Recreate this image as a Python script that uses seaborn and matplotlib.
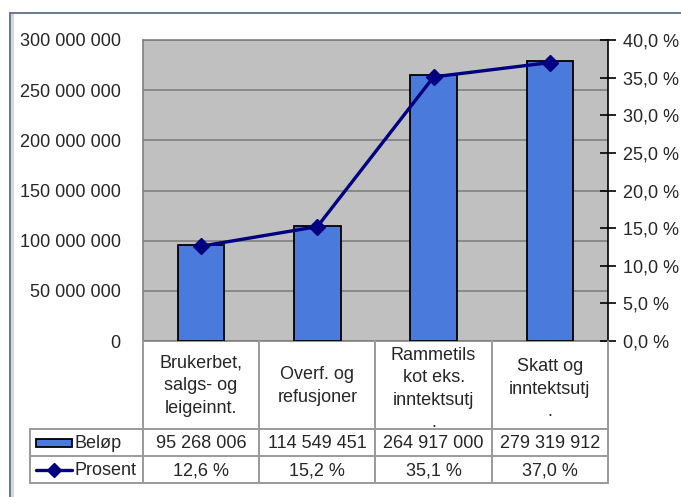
import matplotlib
matplotlib.use("Agg")
import matplotlib.pyplot as plt
import seaborn as sns
import pandas as pd
import numpy as np
from matplotlib.lines import Line2D
from matplotlib.patches import Rectangle

# ---- data ----
categories = ["Brukerbet,\nsalgs- og\nleigeinnt.", "Overf. og\nrefusjoner",
              "Rammetils\nkot eks.\ninntektsutj\n.", "Skatt og\ninntektsutj\n."]
belop = [95268006, 114549451, 264917000, 279319912]
prosent = [12.6, 15.2, 35.1, 37.0]
left_ticks = [0, 50000000, 100000000, 150000000, 200000000, 250000000, 300000000]
right_ticks = [0, 5, 10, 15, 20, 25, 30, 35, 40]
series_names = ["Beløp", "Prosent"]

BAR = "#4A7BDC"
LINE = "#000080"
GRIDC = "#808080"
TBL = "#9a9a9a"

W, H = 681, 497
sns.set_theme(style="white")
plt.rcParams['font.family'] = ['Liberation Sans', 'DejaVu Sans']
FS = 13

fig = plt.figure(figsize=(W / 100, H / 100), dpi=100)
fig.patch.set_facecolor("white")

def fx(x):
    return x / W

def fy(y):
    return 1 - y / H

PL, PR, PT, PB = 143, 608, 40, 341
ax = fig.add_axes([fx(PL), fy(PB), (PR - PL) / W, (PB - PT) / H])
ax.set_facecolor("#C0C0C0")

df = pd.DataFrame({"cat": categories, "val": belop})
sns.barplot(data=df, x="cat", y="val", ax=ax, color=BAR, width=0.4,
            edgecolor="black", linewidth=1.3, saturation=1, zorder=3)
ax.set_xlim(-0.5, 3.5)
ax.set_ylim(0, 300000000)
ax.set_yticks(left_ticks)
ax.set_yticklabels(["{:,}".format(v).replace(",", " ") for v in left_ticks], fontsize=FS)
ax.tick_params(axis="y", length=0, pad=16)
ax.set_xticks([])
ax.set_xlabel("")
ax.set_ylabel("")
ax.yaxis.grid(True, color=GRIDC, linewidth=1.2, zorder=0)
ax.set_axisbelow(True)
for s in ["left", "top"]:
    ax.spines[s].set_color("#808080")
    ax.spines[s].set_linewidth(1.2)
ax.spines["right"].set_visible(False)
ax.spines["bottom"].set_color("#808080")
ax.spines["bottom"].set_linewidth(1.2)

ax2 = ax.twinx()
ax2.plot(range(len(prosent)), prosent, color=LINE, linewidth=2.4,
         marker="D", markersize=8, zorder=5)
ax2.set_ylim(0, 40)
ax2.set_yticks(right_ticks)
ax2.set_yticklabels([f"{v:.1f} %".replace(".", ",") for v in right_ticks], fontsize=FS)
ax2.tick_params(axis="y", direction="inout", length=11, width=1.2, color="black", pad=5)
for s in ["left", "top", "bottom"]:
    ax2.spines[s].set_visible(False)
ax2.spines["right"].set_color("black")
ax2.spines["right"].set_linewidth(1.2)
ax2.grid(False)

# ---- frame ----
fig.add_artist(Line2D([fx(11.5), fx(11.5)], [fy(14), fy(H + 5)], color="#d4d8de", lw=3, transform=fig.transFigure))
fig.add_artist(Line2D([fx(10), fx(W + 5)], [fy(13), fy(13)], color="#5f7088", lw=1.3, transform=fig.transFigure))
fig.add_artist(Line2D([fx(9.5), fx(9.5)], [fy(13), fy(H + 5)], color="#5f7088", lw=1.3, transform=fig.transFigure))

# ---- data table ----
n = len(categories)
cw = (PR - PL) / n
cols = [PL + i * cw for i in range(n + 1)]
TL = 30
R1, R2, R3 = 429, 456, 483

def hline(y, x0, x1):
    fig.add_artist(Line2D([fx(x0), fx(x1)], [fy(y), fy(y)], color=TBL, lw=1.4, transform=fig.transFigure))

def vline(x, y0, y1):
    fig.add_artist(Line2D([fx(x), fx(x)], [fy(y0), fy(y1)], color=TBL, lw=1.4, transform=fig.transFigure))

for x in cols:
    vline(x, PB, R3)
vline(TL, R1, R3)
hline(R1, TL, PR)
hline(R2, TL, PR)
hline(R3, TL, PR)

for i, c in enumerate(categories):
    xc = (cols[i] + cols[i + 1]) / 2
    off = 4 if c.endswith("\n.") else 1
    ls = 1.4 if c.count("\n") >= 3 else 1.45
    fig.text(fx(xc), fy((PB + R1) / 2 + off), c, ha="center", va="center",
             fontsize=FS, linespacing=ls)
    fig.text(fx(xc), fy((R1 + R2) / 2 + 1), "{:,}".format(belop[i]).replace(",", " "),
             ha="center", va="center", fontsize=FS)
    fig.text(fx(xc), fy((R2 + R3) / 2 + 1), f"{prosent[i]:.1f} %".replace(".", ","),
             ha="center", va="center", fontsize=FS)

# legend keys
yb = (R1 + R2) / 2
fig.add_artist(Rectangle((fx(36), fy(yb + 4)), (72 - 36) / W, 8 / H, facecolor=BAR,
                         edgecolor="black", lw=1.3, transform=fig.transFigure))
fig.text(fx(75), fy(yb + 1), series_names[0], ha="left", va="center", fontsize=FS)
yp = (R2 + R3) / 2
fig.add_artist(Line2D([fx(36), fx(72)], [fy(yp), fy(yp)], color=LINE, lw=2.4,
                      transform=fig.transFigure))
fig.add_artist(Line2D([fx(54)], [fy(yp)], color=LINE, marker="D", markersize=7,
                      transform=fig.transFigure))
fig.text(fx(75), fy(yp + 1), series_names[1], ha="left", va="center", fontsize=FS)

fig.savefig("out.png", dpi=100, facecolor="white")
